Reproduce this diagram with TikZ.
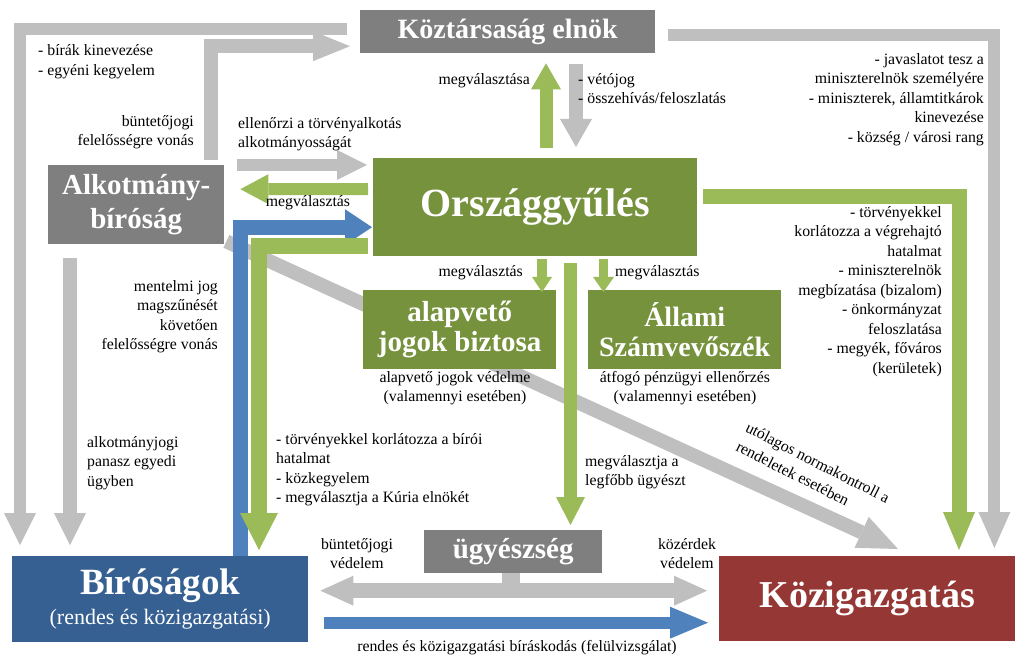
\documentclass[tikz,border=0pt]{standalone}
\usepackage{fontspec}
\setmainfont{Liberation Serif}
\usetikzlibrary{arrows.meta,calc}
\definecolor{boxgray}{HTML}{7F7F7F}
\definecolor{ogygreen}{HTML}{76923C}
\definecolor{lgreen}{HTML}{9BBB59}
\definecolor{agray}{HTML}{BFBFBF}
\definecolor{boxblue}{HTML}{366092}
\definecolor{ablue}{HTML}{4F81BD}
\definecolor{boxred}{HTML}{953735}
\tikzset{
  box/.style={inner sep=0pt, anchor=north west, text=white, align=center, font=\bfseries},
  lbl/.style={inner sep=0pt, text=black, font=\fontsize{15.8}{19.5}\selectfont},
  fat/.style n args={4}{draw=#4, line width=#1, -{Triangle[width=#2,length=#3,line width=0pt]}},
  fatboth/.style n args={4}{draw=#4, line width=#1, {Triangle[width=#2,length=#3,line width=0pt]}-{Triangle[width=#2,length=#3,line width=0pt]}},
  bar/.style n args={2}{draw=#2, line width=#1}
}
\begin{document}
\begin{tikzpicture}[x=1pt,y=-1pt]
\useasboundingbox (0,0) rectangle (1023,660);
% ---------- boxes ----------
\node[box, fill=boxgray, minimum width=295pt, minimum height=43pt, font=\bfseries\fontsize{28}{30}\selectfont] (elnok) at (360,10) {Köztársaság elnök};
\node[box, fill=ogygreen, minimum width=324pt, minimum height=98pt, font=\bfseries\fontsize{40}{44}\selectfont] (ogy) at (373,158) {Országgyűlés};
\node[box, fill=boxgray, minimum width=176pt, minimum height=79pt, font=\bfseries\fontsize{29}{34}\selectfont] (ab) at (48,165) {Alkotmány-\\bíróság};
\node[box, fill=boxblue, minimum width=296pt, minimum height=86pt, font=\bfseries\fontsize{37}{40}\selectfont] (bir) at (12,556) {Bíróságok\\[-10pt]{\mdseries\fontsize{22}{26}\selectfont (rendes és közigazgatási)}};
\node[box, fill=boxred, minimum width=296pt, minimum height=85pt, font=\bfseries\fontsize{38}{42}\selectfont] (kozig) at (719,556) {Közigazgatás};

% ---------- arrows behind ----------
% diagonal: Alkotmanybirosag -> Kozigazgatas
\draw[fat={14pt}{34pt}{40pt}{agray}] ($(ab.south east)+(2,-3)$) -- ($(kozig.north west)+(179,-7)$);

\node[box, fill=ogygreen, minimum width=193pt, minimum height=79pt, font=\bfseries\fontsize{29}{30}\selectfont] (ajb) at (363,290) {alapvető\\jogok biztosa};
\node[box, fill=ogygreen, minimum width=193pt, minimum height=79pt, font=\bfseries\fontsize{28}{30}\selectfont] (asz) at (588,290) {Állami\\Számvevőszék};
\node[box, fill=boxgray, minimum width=178pt, minimum height=43pt, font=\bfseries\fontsize{29}{30}\selectfont] (ugy) at (424,530) {ügyészség};

% president -> courts
\draw[fat={12pt}{32pt}{32pt}{agray}] ($(elnok.west)+(-13,-2.5)$) -| ($(bir.north west)+(8,-11)$);
% AB -> president
\draw[fat={14pt}{30pt}{37pt}{agray}] ($(ab.north east)+(-13,-5)$) |- ($(elnok.west)+(-10,14.5)$);
% AB -> OGY
\draw[fat={12pt}{30pt}{30pt}{agray}] ($(ab.north east)+(13,0)$) -- ($(ogy.north west)+(-6,7)$);
% OGY -> AB
\draw[fat={12pt}{30pt}{28pt}{lgreen}] ($(ogy.north west)+(-5,31)$) -- ($(ab.east)+(16,-15.5)$);
% courts -> OGY (blue)
\draw[fat={15pt}{36pt}{27pt}{ablue}] ($(bir.north west)+(228.5,0)$) |- ($(ogy.west)+(-1,20)$);
% OGY -> courts (green)
\draw[fat={16pt}{38pt}{37pt}{lgreen}] ($(ogy.south west)+(-5,-10)$) -| ($(bir.north west)+(247,-6)$);
% OGY -> president
\draw[fat={13pt}{30pt}{26pt}{lgreen}] ($(ogy.north west)+(173,-10)$) -- ($(elnok.south west)+(186,10)$);
% president -> OGY
\draw[fat={14pt}{32pt}{28pt}{agray}] ($(elnok.south west)+(216,11)$) -- ($(ogy.north west)+(203,-11)$);
% president -> Kozigazgatas
\draw[fat={12pt}{32pt}{36pt}{agray}] ($(elnok.east)+(13,3.5)$) -| ($(kozig.north east)+(-21,-8)$);
% OGY -> Kozigazgatas
\draw[fat={15pt}{32pt}{38pt}{lgreen}] ($(ogy.east)+(6,-10.5)$) -| ($(kozig.north west)+(240,-6)$);
% OGY -> AJB, ASZ
\draw[fat={10pt}{20pt}{15pt}{lgreen}] ($(ogy.south west)+(169,3)$) -- ($(ajb.north west)+(179,2)$);
\draw[fat={9pt}{21pt}{15pt}{lgreen}] ($(ogy.south west)+(230.5,3)$) -- ($(asz.north west)+(15.5,2)$);
% OGY -> ugyeszseg
\draw[fat={13pt}{29pt}{28pt}{lgreen}] ($(ogy.south west)+(197.5,7)$) -- ($(ugy.north west)+(146.5,-5)$);
% AB -> courts
\draw[fat={14pt}{32pt}{32pt}{agray}] ($(ab.south west)+(22,14)$) -- ($(bir.north west)+(58,-11)$);
% ugyeszseg double arrow
\draw[bar={18pt}{agray}] ($(ugy.south)+(-2,0)$) -- ($(ugy.south)+(-2,12)$);
\draw[fatboth={15pt}{30pt}{33pt}{agray}] ($(bir.east)+(12,-8.5)$) -- ($(kozig.west)+(-12,-8)$);
% courts -> Kozigazgatas
\draw[fat={12pt}{32pt}{38pt}{ablue}] ($(bir.east)+(16,23.5)$) -- ($(kozig.west)+(-11,24)$);

% ---------- labels ----------
\node[lbl, anchor=north west, align=left] (l1) at (38,44.5) {- bírák kinevezése\\- egyéni kegyelem};
\node[lbl, anchor=north east, align=right] (l2) at (194,115) {büntetőjogi\\felelősségre vonás};
\node[lbl, anchor=north west, align=left] (l3) at (238,117) {ellenőrzi a törvényalkotás\\alkotmányosságát};
\node[lbl, anchor=north] (l4) at (308,195) {megválasztás};
\node[lbl, anchor=north east] (l5) at (530,73) {megválasztása};
\node[lbl, anchor=north west, align=left] (l6) at (578,73) {- vétójog\\- összehívás/feloszlatás};
\node[lbl, anchor=north east, align=right] (l7) at (984,53) {- javaslatot tesz a\\miniszterelnök személyére\\- miniszterek, államtitkárok\\kinevezése\\- község / városi rang};
\node[lbl, anchor=north east, align=right] (l8) at (942,206) {- törvényekkel\\korlátozza a végrehajtó\\hatalmat\\- miniszterelnök\\megbízatása (bizalom)\\- önkormányzat\\feloszlatása\\- megyék, főváros\\(kerületek)};
\node[lbl, anchor=north east, align=right] (l9) at (218,280) {mentelmi jog\\magszűnését\\követően\\felelősségre vonás};
\node[lbl, anchor=north west, align=left] (l10) at (87,436) {alkotmányjogi\\panasz egyedi\\ügyben};
\node[lbl, anchor=north west, align=left] (l11) at (276,433) {- törvényekkel korlátozza a bírói\\hatalmat\\- közkegyelem\\- megválasztja a Kúria elnökét};
\node[lbl, anchor=north east] (l12) at (523,265) {megválasztás};
\node[lbl, anchor=north west] (l13) at (615,265) {megválasztás};
\node[lbl, anchor=north, align=center] (l14) at (455,371) {alapvető jogok védelme\\(valamennyi esetében)};
\node[lbl, anchor=north, align=center] (l15) at (685,371) {átfogó pénzügyi ellenőrzés\\(valamennyi esetében)};
\node[lbl, anchor=north west, align=left] (l16) at (585,455) {megválasztja a\\legfőbb ügyészt};
\node[lbl, anchor=north, align=center] (l17) at (357,538) {büntetőjogi\\védelem};
\node[lbl, anchor=north, align=center] (l18) at (687,538) {közérdek\\védelem};
\node[lbl, anchor=north] (l19) at (517,640) {rendes és közigazgatási bíráskodás (felülvizsgálat)};
\node[lbl, anchor=center, align=left, rotate=-27, font=\fontsize{15.8}{21}\selectfont] (l20) at (813,472) {utólagos normakontroll a\\rendeletek esetében};
\end{tikzpicture}
\end{document}
